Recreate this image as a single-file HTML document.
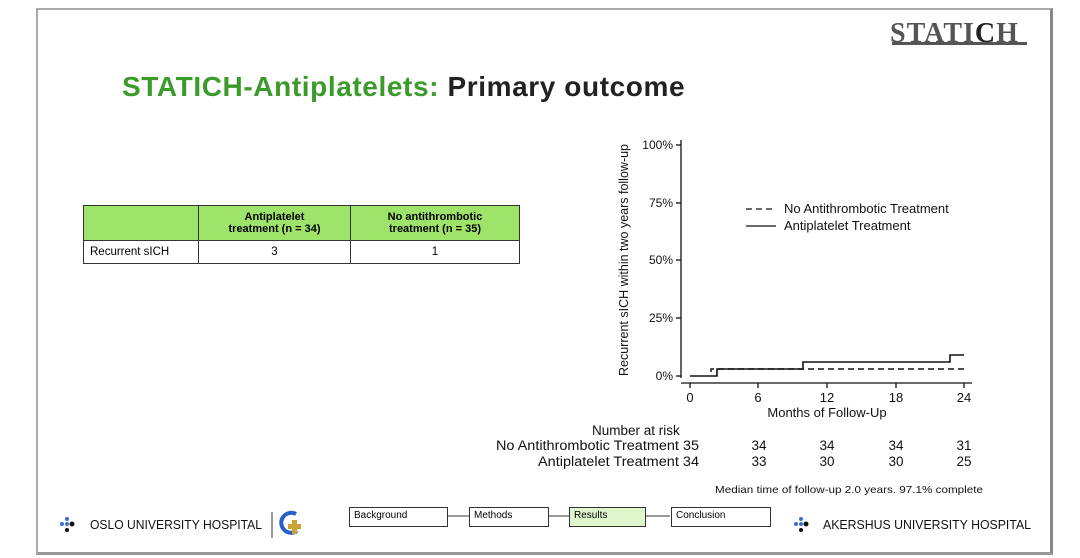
<!DOCTYPE html>
<html><head><style>
body{margin:0;width:1080px;height:558px;background:#fff;position:relative;overflow:hidden;font-family:"Liberation Sans",sans-serif}
.a{position:absolute}
.frame{left:36px;top:8px;width:1012px;height:542px;border:2px solid #aaa;border-right:3px solid #888;border-bottom:3px solid #999}
table{border-collapse:collapse;font-size:11.5px}
td{border:1px solid #333;text-align:center;padding:0}
.nb{border:1px solid #333;font-size:10px;padding:2px 4px;box-sizing:border-box;height:20px;background:#fff}
</style></head><body>
<div class="a frame"></div>
<div class="a" style="left:890px;top:18px;font-family:'Liberation Serif',serif;font-size:28px;font-weight:bold;color:#555;letter-spacing:1px">STATI<span style="color:#222">C</span>H</div>
<div class="a" style="left:892px;top:42px;width:135px;height:3px;background:#555"></div>
<div class="a" style="left:122px;top:71px;font-size:28px;font-weight:bold;letter-spacing:0.6px"><span style="color:#3a9a2a">STATICH-Antiplatelets:</span> <span style="color:#222">Primary outcome</span></div>
<table class="a" style="left:83px;top:205px;width:437px">
<tr style="height:35px;background:#9ee36a;font-weight:bold;font-size:11px"><td style="width:114px"></td><td style="width:151px">Antiplatelet<br>treatment (n = 34)</td><td>No antithrombotic<br>treatment (n = 35)</td></tr>
<tr style="height:23px"><td style="text-align:left;padding-left:6px">Recurrent sICH</td><td>3</td><td>1</td></tr>
</table>
<svg class="a" style="left:0;top:0" width="1080" height="558" font-family="Liberation Sans" font-size="12" fill="#111">
<g stroke="#111" stroke-width="1.3" fill="none">
<line x1="681" y1="140" x2="681" y2="378"/>
<line x1="681" y1="383" x2="972" y2="383"/>
<line x1="676" y1="145" x2="681" y2="145"/><line x1="676" y1="203" x2="681" y2="203"/><line x1="676" y1="260" x2="681" y2="260"/><line x1="676" y1="318" x2="681" y2="318"/><line x1="676" y1="376" x2="681" y2="376"/>
<line x1="690" y1="383" x2="690" y2="388"/><line x1="758" y1="383" x2="758" y2="388"/><line x1="827" y1="383" x2="827" y2="388"/><line x1="896" y1="383" x2="896" y2="388"/><line x1="964" y1="383" x2="964" y2="388"/>
<polyline points="690,376 717,376 717,369 803,369 803,362 950,362 950,355 964,355" stroke-width="1.6"/>
<polyline points="711,372 711,369 964,369" stroke-dasharray="6,4" stroke-width="1.4"/>
<line x1="746" y1="209" x2="776" y2="209" stroke-dasharray="6,4"/>
<line x1="746" y1="226" x2="776" y2="226"/>
</g>
<g text-anchor="end"><text x="673" y="149">100%</text><text x="673" y="207">75%</text><text x="673" y="264">50%</text><text x="673" y="322">25%</text><text x="673" y="380">0%</text></g>
<g text-anchor="middle" font-size="13"><text x="690" y="402">0</text><text x="758" y="402">6</text><text x="827" y="402">12</text><text x="896" y="402">18</text><text x="964" y="402">24</text>
<text x="827" y="417">Months of Follow-Up</text></g>
<text x="784" y="213" font-size="13">No Antithrombotic Treatment</text>
<text x="784" y="230" font-size="13">Antiplatelet Treatment</text>
<text transform="translate(628,260) rotate(-90)" text-anchor="middle" font-size="12.5">Recurrent sICH within two years follow-up</text>
<g font-size="13.5">
<text x="592" y="435">Number at risk</text>
<text x="496" y="450" textLength="203" lengthAdjust="spacingAndGlyphs">No Antithrombotic Treatment 35</text>
<text x="538" y="466" textLength="161" lengthAdjust="spacingAndGlyphs">Antiplatelet Treatment 34</text>
<g text-anchor="middle"><text x="759" y="450">34</text><text x="827" y="450">34</text><text x="896" y="450">34</text><text x="964" y="450">31</text>
<text x="759" y="466">33</text><text x="827" y="466">30</text><text x="896" y="466">30</text><text x="964" y="466">25</text></g>
</g>
<text x="715" y="493" font-size="10.5" textLength="268" lengthAdjust="spacingAndGlyphs">Median time of follow-up 2.0 years. 97.1% complete</text>
<g fill="#3a6fd0"><circle cx="62" cy="524" r="2"/><circle cx="67" cy="519" r="2"/><circle cx="67" cy="524" r="2"/></g>
<circle cx="67" cy="530" r="2"/><circle cx="72" cy="524" r="2.5"/>
<text x="90" y="529" font-size="13" textLength="172" lengthAdjust="spacingAndGlyphs">OSLO UNIVERSITY HOSPITAL</text>
<line x1="272" y1="512" x2="272" y2="538" stroke="#333"/>
<path d="M296 514 A10 10 0 1 0 297 531" stroke="#2a5ec8" stroke-width="4" fill="none"/>
<rect x="292" y="520" width="5" height="14" fill="#c9a23a"/><rect x="288" y="524" width="13" height="5" fill="#c9a23a"/>
<g fill="#3a6fd0"><circle cx="796" cy="524" r="2"/><circle cx="801" cy="519" r="2"/><circle cx="801" cy="524" r="2"/></g>
<circle cx="801" cy="530" r="2"/><circle cx="806" cy="524" r="2.5"/>
<text x="823" y="529" font-size="13" textLength="208" lengthAdjust="spacingAndGlyphs">AKERSHUS UNIVERSITY HOSPITAL</text>
<line x1="447" y1="516" x2="568" y2="516" stroke="#333"/>
<line x1="548" y1="516" x2="670" y2="516" stroke="#333"/>
</svg>
<div class="a nb" style="left:349px;top:507px;width:99px">Background</div>
<div class="a nb" style="left:469px;top:507px;width:80px">Methods</div>
<div class="a nb" style="left:569px;top:507px;width:77px;background:#dff5cc">Results</div>
<div class="a nb" style="left:671px;top:507px;width:100px">Conclusion</div>
</body></html>
